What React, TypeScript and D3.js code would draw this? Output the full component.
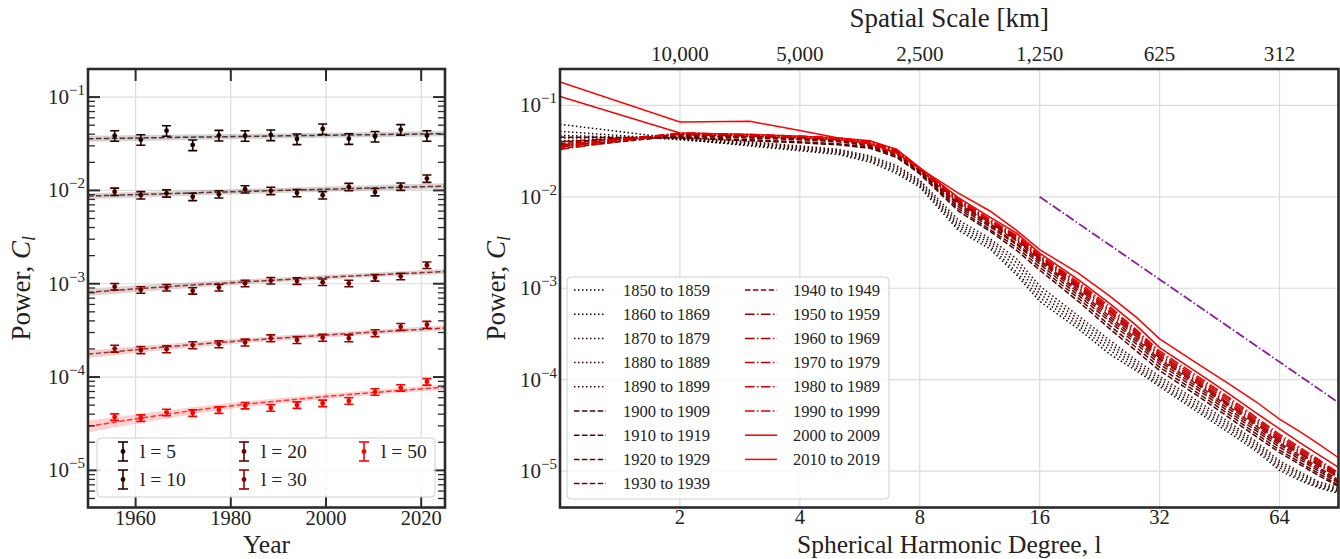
import React from 'react';
import * as d3 from 'd3';

// ---------------- Left panel data ----------------
const YEARS = [1955.6, 1961.1, 1966.5, 1972.0, 1977.5, 1983.0, 1988.4, 1993.9, 1999.3, 2004.8, 2010.3, 2015.7, 2021.2];
const LEFT_DEGREES = [5, 10, 20, 30, 50];
const POWER_L5 = [0.0386, 0.035, 0.0437, 0.0307, 0.0389, 0.0386, 0.0393, 0.0356, 0.0456, 0.0358, 0.0379, 0.0449, 0.0386];
const POWER_L10 = [0.0097, 0.0089, 0.0093, 0.00855, 0.0091, 0.0103, 0.0099, 0.0094, 0.0089, 0.0109, 0.0096, 0.011, 0.0134];
const POWER_L20 = [0.00093, 0.00086, 0.00091, 0.00084, 0.00091, 0.00101, 0.00108, 0.00107, 0.00104, 0.00101, 0.00116, 0.0012, 0.00158];
const POWER_L30 = [0.000202, 0.000195, 0.000199, 0.00022, 0.000225, 0.000235, 0.000261, 0.00025, 0.000264, 0.000261, 0.000296, 0.000346, 0.000364];
const POWER_L50 = [3.73e-5, 3.64e-5, 4.19e-5, 4.12e-5, 4.44e-5, 4.95e-5, 4.67e-5, 5.02e-5, 5.24e-5, 5.55e-5, 6.93e-5, 7.67e-5, 8.9e-5];
const REL_ERR = [0.13, 0.09, 0.08, 0.085, 0.08];

const FIT_YEARS = [1950, 1975, 2000, 2025];
const FIT_L5 = [0.0358, 0.0374, 0.039, 0.0405];
const FIT_L10 = [0.0087, 0.0095, 0.0103, 0.0111];
const FIT_L20 = [0.00081, 0.00099, 0.00117, 0.00135];
const FIT_L30 = [0.000176, 0.000229, 0.000282, 0.000335];
const FIT_L50 = [2.96e-5, 4.57e-5, 6.18e-5, 7.8e-5];
const BAND_LO_L5 = [0.0333, 0.035, 0.0366, 0.038];
const BAND_HI_L5 = [0.0385, 0.0399, 0.0415, 0.0432];
const BAND_LO_L10 = [0.0081, 0.0089, 0.0097, 0.0104];
const BAND_HI_L10 = [0.0093, 0.0101, 0.011, 0.0119];
const BAND_LO_L20 = [0.00074, 0.00093, 0.00111, 0.00127];
const BAND_HI_L20 = [0.00089, 0.00106, 0.00124, 0.00144];
const BAND_LO_L30 = [0.00016, 0.000214, 0.000266, 0.000315];
const BAND_HI_L30 = [0.000193, 0.000245, 0.000298, 0.000356];
const BAND_LO_L50 = [2.55e-5, 4.2e-5, 5.8e-5, 7.3e-5];
const BAND_HI_L50 = [3.4e-5, 4.95e-5, 6.6e-5, 8.3e-5];

const LEFT_X_TICKS = [1960, 1980, 2000, 2020];

// ---------------- Right panel data ----------------
const DEGREES = [1, 2, 3, 4, 5, 6, 7, 8, 10, 12, 14, 16, 20, 24, 28, 32, 40, 48, 56, 64, 72, 80, 90];
const P1850 = [0.062, 0.043, 0.036, 0.032, 0.029, 0.024, 0.018, 0.0128, 0.0043, 0.0027, 0.0014, 0.00072, 0.00036, 0.00019, 0.000125, 0.000084, 0.000044, 0.000026, 0.0000165, 0.0000102, 0.0000079, 0.0000066, 0.0000057];
const P1860 = [0.052, 0.042, 0.037, 0.033, 0.03, 0.025, 0.019, 0.0134, 0.0046, 0.0029, 0.0015, 0.00079, 0.00039, 0.00021, 0.000133, 0.000089, 0.000047, 0.000028, 0.0000175, 0.0000109, 0.0000083, 0.0000068, 0.0000059];
const P1870 = [0.047, 0.043, 0.038, 0.034, 0.031, 0.026, 0.02, 0.014, 0.0049, 0.0031, 0.0017, 0.00087, 0.00042, 0.00023, 0.000142, 0.000095, 0.00005, 0.00003, 0.0000186, 0.0000116, 0.0000088, 0.0000071, 0.0000061];
const P1880 = [0.044, 0.044, 0.039, 0.035, 0.032, 0.027, 0.021, 0.0146, 0.0052, 0.0033, 0.0019, 0.00096, 0.00046, 0.00025, 0.000152, 0.000102, 0.000054, 0.000032, 0.0000198, 0.0000123, 0.0000093, 0.0000074, 0.0000063];
const P1890 = [0.041, 0.045, 0.04, 0.036, 0.033, 0.028, 0.022, 0.0152, 0.0056, 0.0035, 0.0021, 0.00106, 0.0005, 0.00027, 0.000163, 0.000109, 0.000058, 0.000034, 0.000021, 0.000013, 0.0000098, 0.0000077, 0.0000066];
const P1900 = [0.045, 0.044, 0.041, 0.039, 0.037, 0.034, 0.027, 0.0178, 0.007, 0.0042, 0.0026, 0.00158, 0.00072, 0.00036, 0.000205, 0.000126, 0.000066, 0.000038, 0.0000238, 0.000016, 0.0000118, 0.000009, 0.0000068];
const P1910 = [0.04, 0.045, 0.042, 0.04, 0.038, 0.035, 0.028, 0.0183, 0.0074, 0.0044, 0.0028, 0.0017, 0.00078, 0.00039, 0.000224, 0.000137, 0.000071, 0.000041, 0.0000255, 0.000017, 0.0000125, 0.0000095, 0.000007];
const P1920 = [0.036, 0.046, 0.044, 0.042, 0.04, 0.036, 0.029, 0.0188, 0.0078, 0.0047, 0.003, 0.00184, 0.00084, 0.00043, 0.000245, 0.000148, 0.000077, 0.000044, 0.0000275, 0.0000183, 0.0000134, 0.0000101, 0.0000074];
const P1930 = [0.034, 0.047, 0.045, 0.043, 0.041, 0.037, 0.03, 0.0192, 0.0082, 0.0049, 0.0031, 0.00195, 0.0009, 0.00046, 0.000262, 0.000158, 0.000082, 0.000047, 0.0000292, 0.0000194, 0.0000141, 0.0000106, 0.0000077];
const P1940 = [0.038, 0.048, 0.046, 0.044, 0.042, 0.038, 0.03, 0.0196, 0.0085, 0.0051, 0.0033, 0.00204, 0.00095, 0.00049, 0.000278, 0.000167, 0.000087, 0.00005, 0.000031, 0.0000204, 0.0000148, 0.0000111, 0.000008];
const P1950 = [0.04, 0.048, 0.046, 0.044, 0.042, 0.038, 0.031, 0.0199, 0.0087, 0.0052, 0.0034, 0.0021, 0.001, 0.00052, 0.000295, 0.000172, 0.00009, 0.000052, 0.0000325, 0.0000212, 0.0000155, 0.0000116, 0.0000085];
const P1960 = [0.037, 0.049, 0.047, 0.045, 0.043, 0.039, 0.031, 0.0201, 0.0089, 0.0053, 0.0035, 0.00215, 0.00104, 0.00055, 0.00031, 0.00018, 0.000094, 0.000054, 0.0000338, 0.0000221, 0.000016, 0.000012, 0.0000088];
const P1970 = [0.035, 0.049, 0.047, 0.045, 0.043, 0.039, 0.032, 0.0203, 0.0091, 0.0054, 0.0036, 0.0022, 0.00108, 0.00057, 0.000322, 0.000188, 0.000098, 0.000057, 0.0000352, 0.0000231, 0.0000167, 0.0000125, 0.000009];
const P1980 = [0.033, 0.05, 0.048, 0.046, 0.044, 0.04, 0.032, 0.0205, 0.0093, 0.0055, 0.0037, 0.00226, 0.00112, 0.0006, 0.000336, 0.000196, 0.000103, 0.00006, 0.0000368, 0.0000241, 0.0000174, 0.000013, 0.0000093];
const P1990 = [0.036, 0.05, 0.048, 0.046, 0.044, 0.04, 0.033, 0.0207, 0.0095, 0.0057, 0.0038, 0.00232, 0.00117, 0.00063, 0.00035, 0.000206, 0.000108, 0.000063, 0.0000385, 0.0000253, 0.0000182, 0.0000135, 0.0000096];
const P2000 = [0.125, 0.05, 0.048, 0.046, 0.044, 0.041, 0.033, 0.0209, 0.0098, 0.006, 0.004, 0.00242, 0.00124, 0.00068, 0.00039, 0.000224, 0.000118, 0.000069, 0.000043, 0.000029, 0.0000205, 0.0000152, 0.000011];
const P2010 = [0.18, 0.066, 0.067, 0.053, 0.044, 0.038, 0.03, 0.0205, 0.011, 0.007, 0.0043, 0.00265, 0.00146, 0.00082, 0.00048, 0.00028, 0.000148, 0.000089, 0.000057, 0.000037, 0.000027, 0.00002, 0.000014];
const DECADE_LABELS = ['1850 to 1859', '1860 to 1869', '1870 to 1879', '1880 to 1889', '1890 to 1899', '1900 to 1909', '1910 to 1919', '1920 to 1929', '1930 to 1939', '1940 to 1949', '1950 to 1959', '1960 to 1969', '1970 to 1979', '1980 to 1989', '1990 to 1999', '2000 to 2009', '2010 to 2019'];
const DECADE_STYLES = ['dotted', 'dotted', 'dotted', 'dotted', 'dotted', 'dashed', 'dashed', 'dashed', 'dashed', 'dashed', 'dashdot', 'dashdot', 'dashdot', 'dashdot', 'dashdot', 'solid', 'solid'];
const REF_DEGREES = [16, 90];
const REF_POWER = [0.01, 0.0000562];
const SCALE_DEGREES = [2, 4, 8, 16, 32, 64];
const SCALE_LABELS = ['10,000', '5,000', '2,500', '1,250', '625', '312'];

const FONT = '"Liberation Serif", "Times New Roman", Times, serif';
const LP = { x0: 88, x1: 445, y0: 69, y1: 507.5 };
const RP = { x0: 560, x1: 1338.5, y0: 69, y1: 507.5 };
const DASH: Record<string, string | undefined> = {
  dotted: '1.5,2.5',
  dashed: '5.5,2.4',
  dashdot: '9.6,2.4,1.5,2.4',
  solid: undefined,
};

function Pow10({ x, y, exp, anchor = 'end' }: { x: number; y: number; exp: number; anchor?: string }) {
  return (
    <text x={x} y={y} textAnchor={anchor as any} fontSize={21} fill="#222">
      <tspan>10</tspan>
      <tspan dy={-9} fontSize={15}>{'\u2212' + Math.abs(exp)}</tspan>
    </text>
  );
}

export default function App() {
  const leftPowers = [POWER_L5, POWER_L10, POWER_L20, POWER_L30, POWER_L50];
  const leftFits = [FIT_L5, FIT_L10, FIT_L20, FIT_L30, FIT_L50];
  const bandLo = [BAND_LO_L5, BAND_LO_L10, BAND_LO_L20, BAND_LO_L30, BAND_LO_L50];
  const bandHi = [BAND_HI_L5, BAND_HI_L10, BAND_HI_L20, BAND_HI_L30, BAND_HI_L50];
  const rightSeries = [P1850, P1860, P1870, P1880, P1890, P1900, P1910, P1920, P1930, P1940, P1950, P1960, P1970, P1980, P1990, P2000, P2010];

  const xL = d3.scaleLinear().domain([1950, 2025]).range([LP.x0, LP.x1]);
  const yL = d3.scaleLog().domain([4e-6, 0.2]).range([LP.y1, LP.y0]);
  const xR = d3.scaleLog().base(2).domain([1, 90]).range([RP.x0, RP.x1]);
  const yR = d3.scaleLog().domain([4e-6, 0.25]).range([RP.y1, RP.y0]);

  const black2red = d3.interpolateRgb('#000000', '#ff0000');
  const leftColor = (l: number) => black2red(l / 50);
  const rightColor = (i: number) => black2red(i / 16);

  const decades = [-5, -4, -3, -2, -1];
  const minorL: number[] = [];
  for (let e = -6; e <= -1; e++) {
    for (let m = 2; m <= 9; m++) {
      const v = m * Math.pow(10, e);
      if (v >= 4e-6 && v <= 0.2) minorL.push(v);
    }
  }

  const fitLine = d3.line<number>().x((_, i) => xL(FIT_YEARS[i])).y((d) => yL(d)).curve(d3.curveMonotoneX);
  const bandArea = (lo: number[], hi: number[]) =>
    d3.area<number>().x((_, i) => xL(FIT_YEARS[i])).y0((_, i) => yL(lo[i])).y1((_, i) => yL(hi[i])).curve(d3.curveMonotoneX)(lo) || '';
  const rLine = d3.line<number>().x((_, i) => xR(DEGREES[i])).y((d) => yR(d));
  const refLine = d3.line<number>().x((_, i) => xR(REF_DEGREES[i])).y((d) => yR(d));

  const frameColor = '#2b2b2b';
  const gridColor = '#dcdcdc';

  const leftLegendPos = [
    { x: 123, y: 451.5 },
    { x: 123, y: 479.5 },
    { x: 244, y: 451.5 },
    { x: 244, y: 479.5 },
    { x: 364, y: 451.5 },
  ];

  return (
    <svg width={1340} height={559} style={{ position: 'absolute', left: 0, top: 0, fontFamily: FONT }}>
      <rect x={0} y={0} width={1340} height={559} fill="#fff" />
      <defs>
        <clipPath id="clipL"><rect x={LP.x0} y={LP.y0} width={LP.x1 - LP.x0} height={LP.y1 - LP.y0} /></clipPath>
        <clipPath id="clipR"><rect x={RP.x0} y={RP.y0} width={RP.x1 - RP.x0} height={RP.y1 - RP.y0} /></clipPath>
      </defs>

      {/* ---------------- LEFT PANEL ---------------- */}
      <g>
        {LEFT_X_TICKS.map((t) => (
          <line key={'gx' + t} x1={xL(t)} x2={xL(t)} y1={LP.y0} y2={LP.y1} stroke={gridColor} strokeWidth={1.2} />
        ))}
        {decades.map((e) => (
          <line key={'gy' + e} x1={LP.x0} x2={LP.x1} y1={yL(Math.pow(10, e))} y2={yL(Math.pow(10, e))} stroke={gridColor} strokeWidth={1.2} />
        ))}
        <g clipPath="url(#clipL)">
          {LEFT_DEGREES.map((l, k) => (
            <path key={'band' + l} d={bandArea(bandLo[k], bandHi[k])} fill={leftColor(l)} fillOpacity={0.18} stroke="none" />
          ))}
          {LEFT_DEGREES.map((l, k) => (
            <path key={'fit' + l} d={fitLine(leftFits[k]) || ''} fill="none" stroke={leftColor(l)} strokeOpacity={0.75} strokeWidth={1.5} strokeDasharray="5.5,2.4" />
          ))}
          {LEFT_DEGREES.map((l, k) => (
            <g key={'pts' + l} stroke={leftColor(l)} fill={leftColor(l)}>
              {leftPowers[k].map((v, i) => {
                const x = xL(YEARS[i]);
                const yt = yL(v * (1 + REL_ERR[k]));
                const yb = yL(v * (1 - REL_ERR[k]));
                return (
                  <g key={i}>
                    <line x1={x} x2={x} y1={yt} y2={yb} strokeWidth={1.6} />
                    <line x1={x - 4.5} x2={x + 4.5} y1={yt} y2={yt} strokeWidth={1.6} />
                    <line x1={x - 4.5} x2={x + 4.5} y1={yb} y2={yb} strokeWidth={1.6} />
                    <circle cx={x} cy={yL(v)} r={2.4} stroke="none" />
                  </g>
                );
              })}
            </g>
          ))}
        </g>

        {/* ticks */}
        {LEFT_X_TICKS.map((t) => (
          <g key={'tx' + t} stroke={frameColor} strokeWidth={2}>
            <line x1={xL(t)} x2={xL(t)} y1={LP.y1} y2={LP.y1 - 12} />
            <line x1={xL(t)} x2={xL(t)} y1={LP.y0} y2={LP.y0 + 12} />
          </g>
        ))}
        {decades.map((e) => (
          <g key={'ty' + e} stroke={frameColor} strokeWidth={2}>
            <line x1={LP.x0} x2={LP.x0 + 12} y1={yL(Math.pow(10, e))} y2={yL(Math.pow(10, e))} />
            <line x1={LP.x1} x2={LP.x1 - 12} y1={yL(Math.pow(10, e))} y2={yL(Math.pow(10, e))} />
          </g>
        ))}
        {minorL.map((v, i) => (
          <g key={'tm' + i} stroke={frameColor} strokeWidth={1.3}>
            <line x1={LP.x0} x2={LP.x0 + 7} y1={yL(v)} y2={yL(v)} />
            <line x1={LP.x1} x2={LP.x1 - 7} y1={yL(v)} y2={yL(v)} />
          </g>
        ))}

        {/* legend */}
        <rect x={97} y={438} width={338} height={59} rx={4} fill="#fff" fillOpacity={0.8} stroke="#cfcfcf" strokeWidth={1} />
        {LEFT_DEGREES.map((l, k) => {
          const p = leftLegendPos[k];
          const c = leftColor(l);
          return (
            <g key={'lg' + l}>
              <g stroke={c} strokeWidth={1.6}>
                <line x1={p.x} x2={p.x} y1={p.y - 9.5} y2={p.y + 9.5} />
                <line x1={p.x - 5} x2={p.x + 5} y1={p.y - 9.5} y2={p.y - 9.5} />
                <line x1={p.x - 5} x2={p.x + 5} y1={p.y + 9.5} y2={p.y + 9.5} />
              </g>
              <circle cx={p.x} cy={p.y} r={2.4} fill={c} />
              <text x={p.x + 17} y={p.y + 6.5} fontSize={19.5} fill="#222">{'l = ' + l}</text>
            </g>
          );
        })}

        <rect x={LP.x0} y={LP.y0} width={LP.x1 - LP.x0} height={LP.y1 - LP.y0} fill="none" stroke={frameColor} strokeWidth={2.6} />

        {/* tick labels */}
        {LEFT_X_TICKS.map((t) => (
          <text key={'lx' + t} x={xL(t)} y={525} textAnchor="middle" fontSize={20.5} fill="#222">{t}</text>
        ))}
        {decades.map((e) => (
          <Pow10 key={'ly' + e} x={LP.x0 - 3} y={yL(Math.pow(10, e)) + 7} exp={e} />
        ))}
        <text x={(LP.x0 + LP.x1) / 2} y={553} textAnchor="middle" fontSize={25.5} fill="#222">Year</text>
        <text transform={`translate(30, ${(LP.y0 + LP.y1) / 2}) rotate(-90)`} textAnchor="middle" fontSize={27} fill="#222">
          Power, <tspan fontStyle="italic">C</tspan>
          <tspan fontStyle="italic" fontSize={18} dy={5}>l</tspan>
        </text>
      </g>

      {/* ---------------- RIGHT PANEL ---------------- */}
      <g>
        {SCALE_DEGREES.map((t) => (
          <line key={'rgx' + t} x1={xR(t)} x2={xR(t)} y1={RP.y0} y2={RP.y1} stroke={gridColor} strokeWidth={1.2} />
        ))}
        {decades.map((e) => (
          <line key={'rgy' + e} x1={RP.x0} x2={RP.x1} y1={yR(Math.pow(10, e))} y2={yR(Math.pow(10, e))} stroke={gridColor} strokeWidth={1.2} />
        ))}
        <g clipPath="url(#clipR)">
          {rightSeries.map((s, i) => (
            <path key={'rs' + i} d={rLine(s) || ''} fill="none" stroke={rightColor(i)} strokeWidth={1.5} strokeDasharray={DASH[DECADE_STYLES[i]]} />
          ))}
          <path d={refLine(REF_POWER) || ''} fill="none" stroke="#8e1a9c" strokeWidth={1.8} strokeDasharray="9.6,2.4,1.5,2.4" />
        </g>

        {/* legend */}
        <rect x={567} y={277} width={322} height={222} rx={4} fill="#fff" fillOpacity={0.8} stroke="#cfcfcf" strokeWidth={1} />
        {DECADE_LABELS.map((lab, i) => {
          const col = i < 9 ? 0 : 1;
          const row = i < 9 ? i : i - 9;
          const lx = col === 0 ? 574 : 745;
          const tx = col === 0 ? 623 : 793;
          const y = 290 + row * 24.2;
          return (
            <g key={'rl' + i}>
              <line x1={lx} x2={lx + 32} y1={y} y2={y} stroke={rightColor(i)} strokeWidth={1.5} strokeDasharray={DASH[DECADE_STYLES[i]]} />
              <text x={tx} y={y + 5.5} fontSize={16.5} fill="#222">{lab}</text>
            </g>
          );
        })}

        <rect x={RP.x0} y={RP.y0} width={RP.x1 - RP.x0} height={RP.y1 - RP.y0} fill="none" stroke={frameColor} strokeWidth={2.6} />

        {SCALE_DEGREES.map((t) => (
          <text key={'rbx' + t} x={xR(t)} y={524} textAnchor="middle" fontSize={20.5} fill="#222">{t}</text>
        ))}
        {SCALE_DEGREES.map((t, i) => (
          <text key={'rtx' + t} x={xR(t)} y={61} textAnchor="middle" fontSize={21} fill="#222">{SCALE_LABELS[i]}</text>
        ))}
        {decades.map((e) => (
          <Pow10 key={'ry' + e} x={RP.x0 - 3} y={yR(Math.pow(10, e)) + 7} exp={e} />
        ))}
        <text x={(RP.x0 + RP.x1) / 2} y={553} textAnchor="middle" fontSize={25.5} fill="#222">Spherical Harmonic Degree, l</text>
        <text x={(RP.x0 + RP.x1) / 2} y={27} textAnchor="middle" fontSize={27} fill="#222">Spatial Scale [km]</text>
        <text transform={`translate(505, ${(RP.y0 + RP.y1) / 2}) rotate(-90)`} textAnchor="middle" fontSize={27} fill="#222">
          Power, <tspan fontStyle="italic">C</tspan>
          <tspan fontStyle="italic" fontSize={18} dy={5}>l</tspan>
        </text>
      </g>
    </svg>
  );
}
